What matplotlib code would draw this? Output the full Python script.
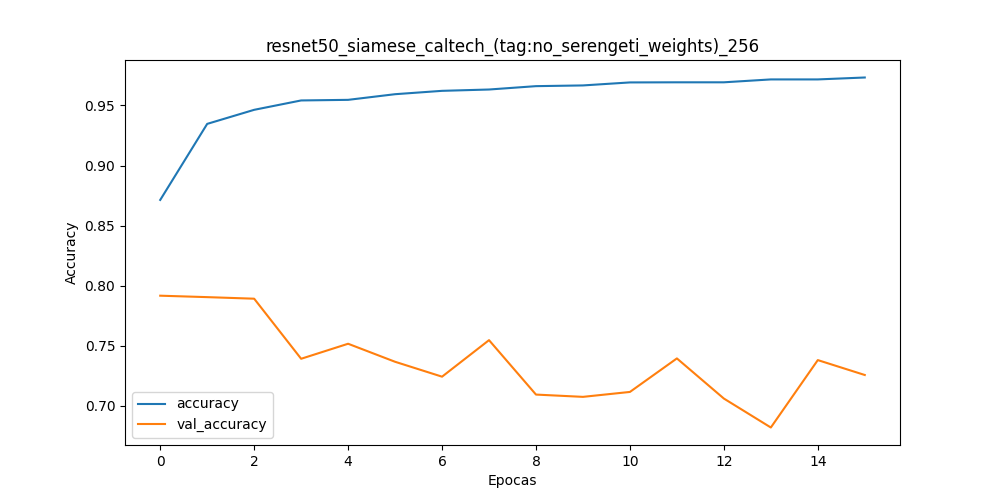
import matplotlib
matplotlib.use("Agg")
import matplotlib.pyplot as plt

epochs = list(range(16))
accuracy = [0.8714, 0.9347, 0.9464, 0.9542, 0.9547, 0.9594, 0.9622, 0.9633,
            0.9661, 0.9667, 0.9692, 0.9693, 0.9693, 0.9717, 0.9717, 0.9733]
val_accuracy = [0.7917, 0.7905, 0.7892, 0.7392, 0.7517, 0.7367, 0.7243, 0.7547,
                0.7094, 0.7075, 0.7116, 0.7395, 0.7061, 0.6820, 0.7381, 0.7257]

fig, ax = plt.subplots(figsize=(10, 5), dpi=100)
ax.plot(epochs, accuracy, label="accuracy")
ax.plot(epochs, val_accuracy, label="val_accuracy")
ax.set_title("resnet50_siamese_caltech_(tag:no_serengeti_weights)_256")
ax.set_xlabel("Epocas")
ax.set_ylabel("Accuracy")
ax.legend(loc="lower left")
fig.savefig("out.png")
